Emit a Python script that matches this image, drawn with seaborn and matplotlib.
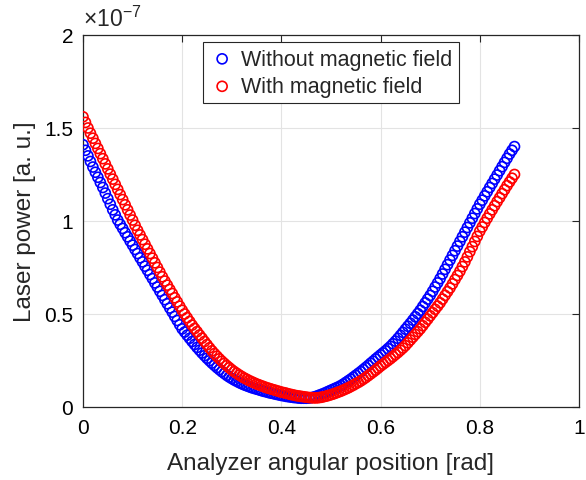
import matplotlib
matplotlib.use('Agg')
import matplotlib.pyplot as plt
import pandas as pd
import seaborn as sns

# analyzer angle [rad]
angle = [0.000, 0.005, 0.010, 0.015, 0.020, 0.025, 0.030, 0.035, 0.040, 0.045,
         0.050, 0.055, 0.060, 0.065, 0.070, 0.075, 0.080, 0.085, 0.090, 0.095,
         0.100, 0.105, 0.110, 0.115, 0.120, 0.125, 0.130, 0.135, 0.140, 0.145,
         0.150, 0.155, 0.160, 0.165, 0.170, 0.175, 0.180, 0.185, 0.190, 0.195,
         0.200, 0.205, 0.210, 0.215, 0.220, 0.225, 0.230, 0.235, 0.240, 0.245,
         0.250, 0.255, 0.260, 0.265, 0.270, 0.275, 0.280, 0.285, 0.290, 0.295,
         0.300, 0.305, 0.310, 0.315, 0.320, 0.325, 0.330, 0.335, 0.340, 0.345,
         0.350, 0.355, 0.360, 0.365, 0.370, 0.375, 0.380, 0.385, 0.390, 0.395,
         0.400, 0.405, 0.410, 0.415, 0.420, 0.425, 0.430, 0.435, 0.440, 0.445,
         0.450, 0.455, 0.460, 0.465, 0.470, 0.475, 0.480, 0.485, 0.490, 0.495,
         0.500, 0.505, 0.510, 0.515, 0.520, 0.525, 0.530, 0.535, 0.540, 0.545,
         0.550, 0.555, 0.560, 0.565, 0.570, 0.575, 0.580, 0.585, 0.590, 0.595,
         0.600, 0.605, 0.610, 0.615, 0.620, 0.625, 0.630, 0.635, 0.640, 0.645,
         0.650, 0.655, 0.660, 0.665, 0.670, 0.675, 0.680, 0.685, 0.690, 0.695,
         0.700, 0.705, 0.710, 0.715, 0.720, 0.725, 0.730, 0.735, 0.740, 0.745,
         0.750, 0.755, 0.760, 0.765, 0.770, 0.775, 0.780, 0.785, 0.790, 0.795,
         0.800, 0.805, 0.810, 0.815, 0.820, 0.825, 0.830, 0.835, 0.840, 0.845,
         0.850, 0.855, 0.860, 0.865, 0.870]

# laser power, in units of 1e-7
without_field = [1.41, 1.38, 1.35, 1.32, 1.29, 1.262, 1.235, 1.207, 1.18, 1.15,
                 1.12, 1.09, 1.06, 1.033, 1.005, 0.982, 0.96, 0.937, 0.915, 0.892,
                 0.87, 0.847, 0.825, 0.802, 0.78, 0.757, 0.735, 0.712, 0.69, 0.667,
                 0.645, 0.622, 0.60, 0.577, 0.555, 0.532, 0.51, 0.487, 0.465, 0.442,
                 0.42, 0.403, 0.386, 0.369, 0.352, 0.336, 0.32, 0.305, 0.29, 0.276,
                 0.262, 0.249, 0.236, 0.224, 0.212, 0.201, 0.19, 0.18, 0.17, 0.161,
                 0.153, 0.145, 0.138, 0.131, 0.125, 0.119, 0.114, 0.109, 0.104, 0.10,
                 0.096, 0.092, 0.088, 0.084, 0.081, 0.077, 0.074, 0.071, 0.068, 0.065,
                 0.062, 0.06, 0.057, 0.055, 0.053, 0.051, 0.05, 0.048, 0.047, 0.047,
                 0.047, 0.048, 0.05, 0.053, 0.057, 0.062, 0.067, 0.072, 0.078, 0.084,
                 0.09, 0.096, 0.102, 0.108, 0.115, 0.123, 0.132, 0.141, 0.15, 0.16,
                 0.17, 0.18, 0.19, 0.201, 0.212, 0.223, 0.235, 0.246, 0.258, 0.269,
                 0.28, 0.291, 0.302, 0.314, 0.326, 0.34, 0.354, 0.369, 0.385, 0.401,
                 0.418, 0.434, 0.45, 0.467, 0.485, 0.502, 0.52, 0.54, 0.56, 0.58,
                 0.60, 0.622, 0.645, 0.667, 0.69, 0.715, 0.74, 0.765, 0.79, 0.815,
                 0.84, 0.865, 0.89, 0.915, 0.94, 0.965, 0.99, 1.015, 1.04, 1.065,
                 1.09, 1.112, 1.135, 1.157, 1.18, 1.202, 1.225, 1.247, 1.27, 1.292,
                 1.315, 1.337, 1.36, 1.38, 1.40]

with_field = [1.56, 1.53, 1.50, 1.472, 1.445, 1.417, 1.39, 1.362, 1.335, 1.307,
              1.28, 1.252, 1.225, 1.197, 1.17, 1.142, 1.115, 1.087, 1.06, 1.032,
              1.005, 0.977, 0.95, 0.925, 0.90, 0.875, 0.85, 0.825, 0.80, 0.775,
              0.75, 0.725, 0.70, 0.677, 0.655, 0.632, 0.61, 0.587, 0.565, 0.542,
              0.52, 0.50, 0.48, 0.46, 0.44, 0.422, 0.405, 0.387, 0.37, 0.352,
              0.335, 0.318, 0.302, 0.287, 0.273, 0.259, 0.246, 0.234, 0.222, 0.211,
              0.20, 0.19, 0.181, 0.172, 0.164, 0.156, 0.149, 0.142, 0.136, 0.13,
              0.124, 0.119, 0.114, 0.109, 0.104, 0.10, 0.096, 0.092, 0.088, 0.084,
              0.08, 0.077, 0.074, 0.07, 0.067, 0.064, 0.061, 0.059, 0.057, 0.055,
              0.053, 0.051, 0.05, 0.049, 0.049, 0.05, 0.052, 0.055, 0.058, 0.062,
              0.066, 0.07, 0.075, 0.08, 0.085, 0.091, 0.097, 0.103, 0.11, 0.117,
              0.125, 0.132, 0.14, 0.149, 0.158, 0.168, 0.178, 0.188, 0.198, 0.209,
              0.22, 0.23, 0.24, 0.25, 0.26, 0.271, 0.282, 0.293, 0.305, 0.317,
              0.33, 0.345, 0.36, 0.375, 0.39, 0.405, 0.42, 0.437, 0.455, 0.472,
              0.49, 0.507, 0.525, 0.542, 0.56, 0.58, 0.60, 0.62, 0.64, 0.662,
              0.685, 0.707, 0.73, 0.755, 0.78, 0.807, 0.835, 0.862, 0.89, 0.917,
              0.945, 0.968, 0.992, 1.015, 1.038, 1.06, 1.082, 1.104, 1.125, 1.147,
              1.168, 1.19, 1.21, 1.23, 1.25]

labels = ['Without magnetic field', 'With magnetic field']
colors = ['#0000ff', '#ff0000']

sns.set_style('white')
plt.rcParams['font.family'] = ['Liberation Sans', 'DejaVu Sans']
plt.rcParams['mathtext.fontset'] = 'custom'
plt.rcParams['mathtext.rm'] = 'Liberation Sans'
plt.rcParams['mathtext.it'] = 'Liberation Sans:italic'

fig = plt.figure(figsize=(5.86, 4.81), dpi=100)
ax = fig.add_axes([0.1416, 0.1518, 0.8464, 0.7734])

for ys, lab, col in zip([without_field, with_field], labels, colors):
    df = pd.DataFrame({'x': angle, 'y': ys})
    sns.scatterplot(data=df, x='x', y='y', ax=ax, marker='o', s=52,
                    facecolors='none', edgecolors=col, linewidth=1.2,
                    label=lab, zorder=3)

ax.set_xlim(0, 1)
ax.set_ylim(0, 2)
ax.set_xticks([0, 0.2, 0.4, 0.6, 0.8, 1])
ax.set_xticklabels(['0', '0.2', '0.4', '0.6', '0.8', '1'])
ax.set_yticks([0, 0.5, 1, 1.5, 2])
ax.set_yticklabels(['0', '0.5', '1', '1.5', '2'])
ax.grid(True, color='#e3e3e3', linewidth=0.8)
ax.set_axisbelow(True)
for s in ax.spines.values():
    s.set_visible(True)
    s.set_color('#262626')
    s.set_linewidth(0.9)
ax.tick_params(direction='in', length=5, width=0.8, color='#262626',
               top=True, right=True, labelsize=15, labelcolor='black')
ax.tick_params(axis='x', pad=8)
ax.tick_params(axis='y', pad=7)

ax.set_xlabel('Analyzer angular position [rad]', fontsize=17.5, labelpad=11)
ax.set_ylabel('Laser power [a. u.]', fontsize=17.5, labelpad=6)
ax.text(0.0, 1.01, r'$\times10^{-7}$', transform=ax.transAxes,
        ha='left', va='bottom', fontsize=16.5)

leg = ax.legend(loc='upper center', bbox_to_anchor=(0.5, 0.981), fontsize=15.5,
                fancybox=False, framealpha=1, edgecolor='#262626',
                borderaxespad=0, handletextpad=0.3, borderpad=0.3,
                labelspacing=0.3, handlelength=1.2)
leg.get_frame().set_linewidth(0.8)

fig.savefig('out.png', dpi=100)
